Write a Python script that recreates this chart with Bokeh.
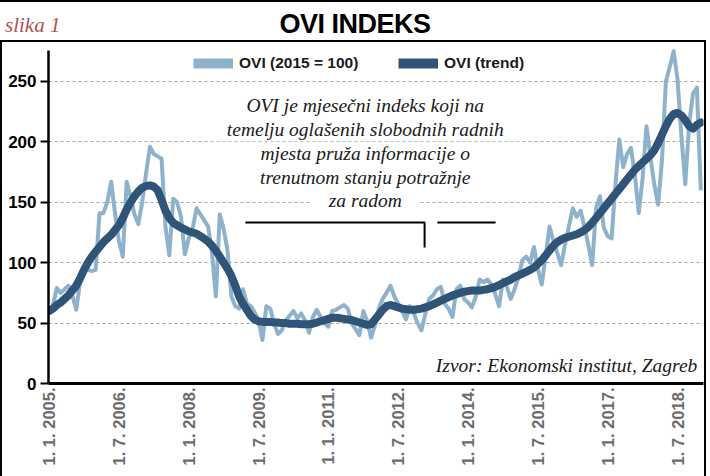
import math
from bokeh.plotting import figure
from bokeh.models import Range1d, FixedTicker, Label, Legend, LegendItem, Div
from bokeh.layouts import column
from bokeh.embed import file_html
from bokeh.resources import INLINE

# ---------------- data (monthly, Jan 2005 .. Jan 2019) ----------------
raw_values = [
    58, 65, 79, 75, 78, 81, 73, 61, 84, 94, 94, 93,
    94, 141, 141, 150, 167, 141, 118, 105, 167, 155, 140, 132,
    150, 174, 196, 190, 188, 186, 130, 106, 153, 150, 138, 107,
    120, 128, 145, 140, 135, 130, 108, 72, 140, 128, 110, 72,
    64, 62, 78, 66, 64, 59, 52, 36, 64, 62, 50, 41,
    44, 52, 56, 60, 54, 58, 52, 42, 55, 61, 55, 50,
    47, 60, 61, 63, 65, 62, 50, 45, 40, 60, 52, 38,
    48, 62, 70, 75, 81, 72, 66, 60, 53, 64, 58, 50,
    44, 58, 70, 73, 78, 80, 66, 62, 55, 78, 81, 70,
    67, 63, 72, 86, 84, 86, 82, 74, 64, 86, 80, 70,
    78, 88, 102, 105, 100, 113, 95, 82, 105, 130, 118, 108,
    98, 115, 130, 145, 138, 143, 130, 115, 98, 145, 155, 129,
    122, 120, 165, 202, 179, 190, 195, 173, 141, 170, 213, 188,
    165, 148, 185, 250, 262, 275, 252, 205, 165, 215, 240, 245,
    160,
]
trend_values = [
    60, 62, 65, 67, 70, 73, 77, 81, 87, 94, 100, 105,
    109, 113, 117, 120, 123, 127, 131, 137, 144, 150, 155, 159,
    162, 163.5, 164, 163, 160, 152, 143, 137, 133, 131, 129, 127.5,
    126, 125, 124, 122, 120, 117.5, 114, 110, 105, 100, 95, 89,
    81, 72, 66, 61, 56, 53, 51.5, 51, 51, 51, 50.5, 50.5,
    50, 50, 49.5, 49.5, 49.5, 49, 49, 49, 49.5, 50.5, 51.5, 52.5,
    53.5, 54.5, 54.5, 54, 53.5, 53, 52.5, 51.5, 50.5, 49.5, 48.5, 49,
    53, 57, 61, 64, 65, 64, 63, 62, 61.5, 61, 61, 61.5,
    62, 63, 64, 65.5, 67, 68.5, 70, 71.5, 73, 74, 75, 76,
    76.5, 77, 77, 77, 77.5, 78, 79, 80, 81.5, 83, 84.5, 86,
    88, 89.5, 91, 92.5, 94, 96, 99, 102, 106, 110, 114, 117,
    119, 120.5, 121.5, 122.5, 123.5, 125, 127, 129.5, 133, 137, 141, 145,
    149, 153, 157, 161, 165, 169, 173, 177, 180, 183, 186, 189,
    193, 199, 206, 213, 219, 223, 224, 222, 218, 213, 211, 214,
    216,
]
months = list(range(len(raw_values)))
tick_months = [0, 18, 36, 54, 72, 90, 108, 126, 144, 162]
tick_labels = ["1. 1. 2005.", "1. 7. 2006.", "1. 1. 2008.", "1. 7. 2009.",
               "1. 1. 2011.", "1. 7. 2012.", "1. 1. 2014.", "1. 7. 2015.",
               "1. 1. 2017.", "1. 7. 2018."]
y_ticks = [0, 50, 100, 150, 200, 250]
series_names = ["OVI (2015 = 100)", "OVI (trend)"]
note_lines = ["OVI je mjesečni indeks koji na",
              "temelju oglašenih slobodnih radnih",
              "mjesta pruža informacije o",
              "trenutnom stanju potražnje",
              "za radom"]
source_text = "Izvor: Ekonomski institut, Zagreb"
title_text = "OVI INDEKS"
fig_text = "slika 1"

RAW_C = "#8fb2cc"
TREND_C = "#2f5477"
SANS = "'Liberation Sans', Arial, sans-serif"
SERIF = "'Liberation Serif', serif"

# ---------------- header (tag + title + frame lines) ----------------
header_html = (
    '<div style="position:relative;width:710px;height:41px;overflow:visible;">'
    '<div style="position:absolute;left:0px;top:0px;width:710px;height:2px;background:#000;"></div>'
    '<span style="position:absolute;left:5px;top:15px;font-family:%s;'
    'font-style:italic;font-size:21px;line-height:21px;color:#b5514f;'
    'white-space:nowrap;">%s</span>'
    '<span style="position:absolute;left:0px;top:11px;width:710px;text-align:center;'
    'font-family:%s;font-weight:bold;font-size:27px;line-height:27px;color:#000;'
    'letter-spacing:-0.5px;white-space:nowrap;">%s</span>'
    '<div style="position:absolute;left:0px;top:40px;width:706px;height:2px;background:#000;"></div>'
    '<div style="position:absolute;left:0px;top:40px;width:2px;height:436px;background:#000;"></div>'
    '<div style="position:absolute;left:704px;top:40px;width:2px;height:436px;background:#000;"></div>'
    '</div>'
) % (SERIF, fig_text, SANS, title_text)
header = Div(text=header_html, width=710, height=41, margin=0,
             styles={"overflow": "visible", "z-index": "5"})

# ---------------- plot ----------------
p = figure(width=710, height=435, output_backend="svg", toolbar_location=None,
           x_range=Range1d(-0.15, 168.7), y_range=Range1d(0, 283.1),
           min_border_left=48, min_border_right=7, min_border_top=0,
           min_border_bottom=93, margin=0)
p.background_fill_color = "white"
p.border_fill_color = None
p.outline_line_color = None

p.xaxis.ticker = FixedTicker(ticks=tick_months)
p.xaxis.major_label_overrides = {m: t for m, t in zip(tick_months, tick_labels)}
p.xaxis.major_label_orientation = math.pi / 2
p.xaxis.major_label_text_font = SANS
p.xaxis.major_label_text_font_style = "bold"
p.xaxis.major_label_text_font_size = "16.5px"
p.xaxis.major_label_text_color = "#6b6b6b"
p.xaxis.major_label_standoff = 4
p.xaxis.major_tick_out = 0
p.xaxis.major_tick_in = 0
p.xaxis.major_tick_line_color = None
p.xaxis.minor_tick_line_color = None
p.xaxis.minor_tick_out = 0
p.xaxis.axis_line_width = 3
p.xaxis.axis_line_color = "black"

p.yaxis.ticker = FixedTicker(ticks=y_ticks)
p.yaxis.bounds = (0, 276)
p.yaxis.major_label_text_font = SANS
p.yaxis.major_label_text_font_style = "bold"
p.yaxis.major_label_text_font_size = "17px"
p.yaxis.major_label_text_color = "black"
p.yaxis.major_label_standoff = 4
p.yaxis.major_tick_out = 8
p.yaxis.major_tick_in = 0
p.yaxis.major_tick_line_width = 2
p.yaxis.major_tick_line_color = "black"
p.yaxis.minor_tick_line_color = None
p.yaxis.axis_line_width = 2.5
p.yaxis.axis_line_color = "black"

p.xgrid.visible = False
p.ygrid.grid_line_color = "#a3a3a3"
p.ygrid.grid_line_dash = "3 3"
p.ygrid.grid_line_width = 1

# note text with white backing (interrupts grid lines)
note_x = 81.5
note_y = [230.1, 210.0, 190.1, 170.7, 151.5]
for txt, yy in zip(note_lines, note_y):
    p.add_layout(Label(x=note_x, y=yy, text=txt, text_align="center",
                       text_baseline="middle", text_font=SERIF,
                       text_font_style="italic", text_font_size="19.5px",
                       text_color="#1a1a1a", background_fill_color="white",
                       padding=dict(left=18, right=18, top=1, bottom=1)))

# bracket decoration under the note
p.line([50.6, 96.8, 96.8], [133.3, 133.3, 112.6], line_color="black", line_width=2)
p.line([100.1, 115.1], [133.3, 133.3], line_color="black", line_width=2)

# data lines
p.line(months, raw_values, line_color=RAW_C, line_width=4, line_join="round")
p.line(months, trend_values, line_color=TREND_C, line_width=8, line_join="round",
       line_cap="round")

# legend swatches (thick bars)
nan = float("nan")
d1 = p.line([nan], [nan], line_color=RAW_C, line_width=10)
d2 = p.line([nan], [nan], line_color=TREND_C, line_width=10)
for r, name, lx in [(d1, series_names[0], 145), (d2, series_names[1], 350)]:
    lg = Legend(items=[LegendItem(label=name, renderers=[r])], location=(lx, 310),
                orientation="horizontal", margin=0, padding=0,
                border_line_color=None, background_fill_alpha=0,
                glyph_width=40, glyph_height=20, label_height=20,
                label_standoff=6, label_text_font=SANS,
                label_text_font_style="bold", label_text_font_size="15.5px",
                label_text_color="#1a1a1a")
    p.add_layout(lg)

# source
p.add_layout(Label(x=167.1, y=14.9, text=source_text, text_align="right",
                   text_baseline="middle", text_font=SERIF,
                   text_font_style="italic", text_font_size="19.5px",
                   text_color="#1a1a1a"))

layout = column(header, p, spacing=0)
open("out.html", "w").write(file_html(layout, INLINE))
